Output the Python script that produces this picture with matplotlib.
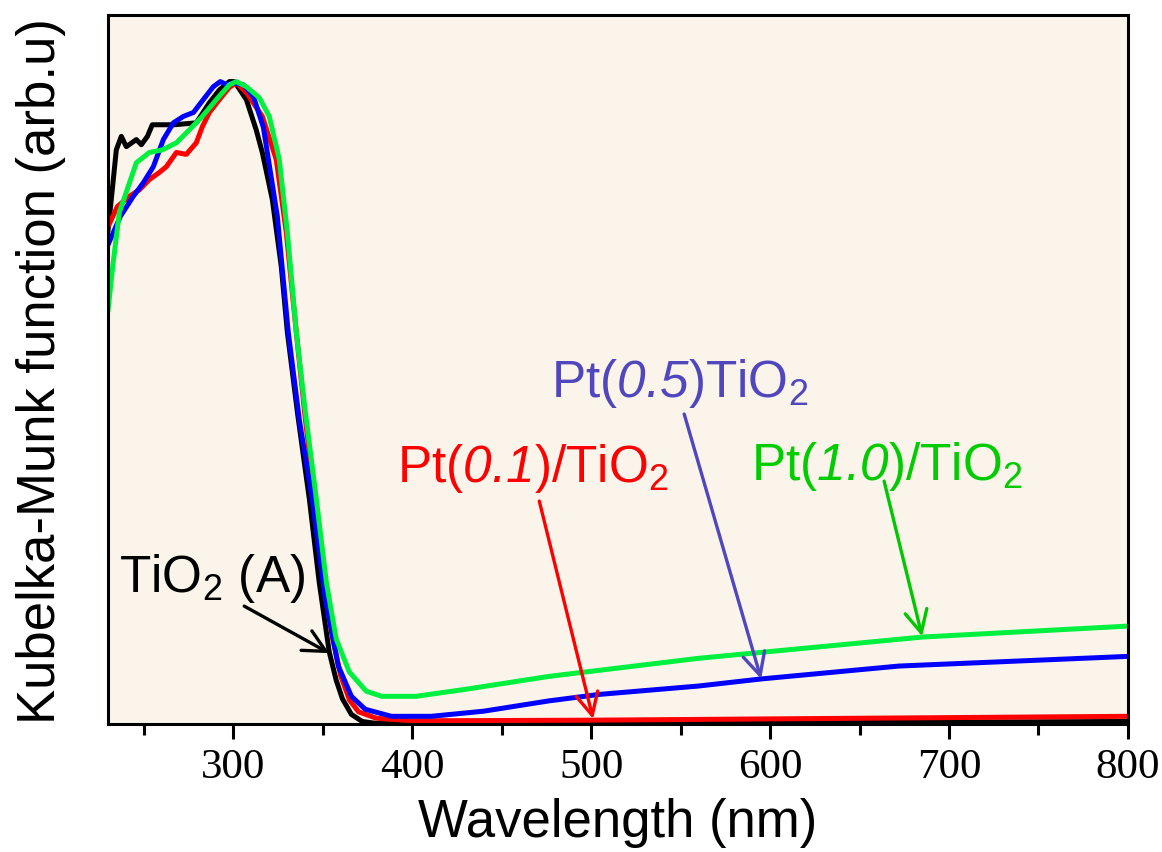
import matplotlib
matplotlib.use('Agg')
import matplotlib.pyplot as plt
from matplotlib.ticker import MultipleLocator

plt.rcParams['font.family'] = ['Liberation Sans', 'DejaVu Sans']
plt.rcParams['mathtext.fontset'] = 'custom'
plt.rcParams['mathtext.rm'] = 'Liberation Sans'
# digits in \mathit come out upright, so sf is mapped to the italic face
plt.rcParams['mathtext.sf'] = 'Liberation Sans:italic'

# Kubelka-Munk curves (arb. units, peak ~1)
wl_tio2 = [230, 231.8, 234.6, 237.4, 240.2, 245.8, 248.6, 252, 254.7, 267, 279.3, 286.6,
           292.2, 297.8, 300.6, 307.3, 312.8, 316.2, 321.8, 326.8, 330.2, 336, 342.5, 348,
           353.6, 357.5, 361, 366, 372, 380, 400, 500, 600, 700, 800]
km_tio2 = [0.767, 0.814, 0.891, 0.912, 0.896, 0.907, 0.899, 0.912, 0.93, 0.93, 0.933, 0.964,
           0.984, 0.997, 0.997, 0.969, 0.922, 0.887, 0.814, 0.71, 0.608, 0.48, 0.349, 0.22,
           0.112, 0.068, 0.039, 0.015, 0.004, 0.001, 0.0, 0.001, 0.002, 0.003, 0.004]

wl_pt01 = [230, 235.2, 241.9, 247.5, 253.1, 258.7, 262.6, 268.2, 273.7, 279.3, 282.7, 286.6,
           292.2, 297.8, 301.7, 307.3, 316.2, 324, 329.6, 335.2, 340, 345, 350, 355, 360,
           365, 370, 380, 400, 500, 600, 700, 800]
km_pt01 = [0.772, 0.803, 0.819, 0.829, 0.845, 0.856, 0.865, 0.887, 0.884, 0.902, 0.927, 0.949,
           0.969, 0.988, 0.995, 0.98, 0.943, 0.876, 0.763, 0.608, 0.48, 0.36, 0.24, 0.14, 0.075,
           0.037, 0.019, 0.009, 0.005, 0.006, 0.008, 0.01, 0.012]

wl_pt05 = [230, 236.9, 244.1, 249.7, 255.3, 260.9, 266.5, 272.1, 277.7, 283.2, 288.8, 292.7,
           296.6, 300, 305.6, 311.2, 316.8, 324.6, 330.7, 337, 344.1, 351.4, 358.7, 366,
           373.7, 388.3, 410.6, 440, 476.5, 504.5, 560, 595, 672, 800]
km_pt05 = [0.744, 0.788, 0.819, 0.84, 0.865, 0.907, 0.933, 0.943, 0.949, 0.969, 0.989, 0.997,
           0.992, 0.995, 0.992, 0.974, 0.926, 0.788, 0.608, 0.47, 0.349, 0.194, 0.09, 0.043,
           0.023, 0.012, 0.012, 0.02, 0.036, 0.046, 0.059, 0.07, 0.09, 0.105]

wl_pt10 = [230, 232.6, 236.3, 245.8, 253.1, 260.3, 268.2, 275.4, 282.7, 290.5, 297.8, 301.7,
           307.3, 314.5, 320.1, 325.7, 330.2, 335.2, 340, 346.4, 352, 357.5, 364.8, 374.3,
           383, 402, 430, 476.5, 560, 685, 800]
km_pt10 = [0.643, 0.71, 0.794, 0.871, 0.887, 0.891, 0.902, 0.922, 0.943, 0.969, 0.992, 0.997,
           0.989, 0.972, 0.943, 0.876, 0.763, 0.608, 0.49, 0.349, 0.22, 0.132, 0.081, 0.051,
           0.043, 0.043, 0.054, 0.074, 0.102, 0.135, 0.152]

fig = plt.figure(figsize=(11.62, 8.53), dpi=100)
ax = fig.add_axes([0.093, 0.150, 0.8777, 0.831])
ax.set_facecolor('#fbf4ea')

ax.plot(wl_tio2, km_tio2, color='black', lw=3.6)
ax.plot(wl_pt01, km_pt01, color='#ff0000', lw=3.6)
ax.plot(wl_pt05, km_pt05, color='#0000ff', lw=3.6)
ax.plot(wl_pt10, km_pt10, color='#00f040', lw=3.6)

ax.set_xlim(230, 800)
ax.set_ylim(0, 1.1)
ax.xaxis.set_major_locator(MultipleLocator(100))
ax.xaxis.set_minor_locator(MultipleLocator(50))
ax.set_yticks([])
ax.tick_params(axis='x', which='major', length=11, width=2.2, direction='out', pad=6)
ax.tick_params(axis='x', which='minor', length=8, width=2.2, direction='out')
for lab in ax.get_xticklabels():
    lab.set_fontfamily('Liberation Serif')
    lab.set_fontsize(31)
for sp in ax.spines.values():
    sp.set_linewidth(2.2)

ax.set_xlabel('Wavelength (nm)', fontsize=38, labelpad=8)
ax.set_ylabel('Kubelka-Munk function (arb.u)', fontsize=38, labelpad=30)

# labels and arrows
ax.text(236.3, 0.206, 'TiO$_2$ (A)', fontsize=37, color='black', ha='left', va='baseline')
ax.text(391.6, 0.377, 'Pt($\\mathsf{0.1}$)/TiO$_2$', fontsize=37, color='#ff0000',
        ha='left', va='baseline')
ax.text(477.7, 0.5085, 'Pt($\\mathsf{0.5}$)TiO$_2$', fontsize=37, color='#5046be',
        ha='left', va='baseline')
ax.text(589.4, 0.380, 'Pt($\\mathsf{1.0}$)/TiO$_2$', fontsize=37, color='#00cc00',
        ha='left', va='baseline')

arrows = [((306.1, 0.183), (353.6, 0.110), 'black'),
          ((471.0, 0.346), (501.1, 0.008), '#ff0000'),
          ((552.0, 0.481), (595.0, 0.070), '#5046c0'),
          ((663.7, 0.377), (685.0, 0.136), '#00c800')]
for tail, tip, c in arrows:
    ax.annotate('', xy=tip, xytext=tail,
                arrowprops=dict(arrowstyle='->,head_length=0.8,head_width=0.4',
                                color=c, lw=2.4, mutation_scale=20,
                                shrinkA=0, shrinkB=0))

fig.savefig('out.png', dpi=100)
